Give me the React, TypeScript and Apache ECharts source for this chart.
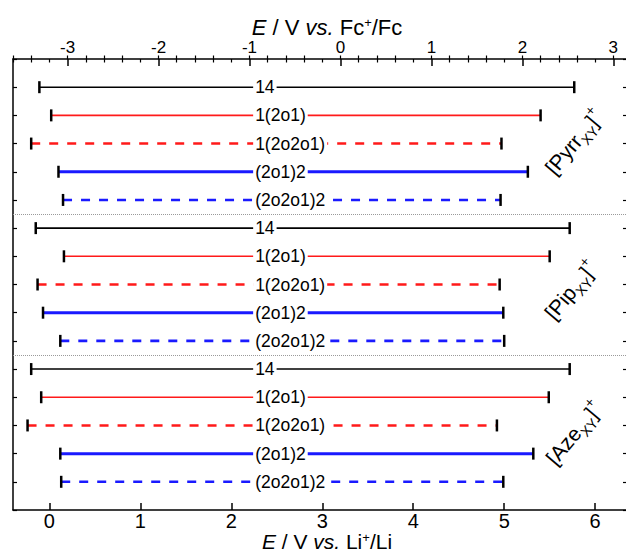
import React, { useEffect, useRef } from "react";
import * as echarts from "echarts";

// Row labels inside each cation family, top to bottom
const rowNames = ["14", "1(2o1)", "1(2o2o1)", "(2o1)2", "(2o2o1)2"];
// Cation families (subscripted XY, superscript +)
const groupNames = ["Pyrr", "Pip", "Aze"];

// Electrochemical window limits, V vs. Li+/Li
const pyrrLow = [-0.11, 0.02, -0.2, 0.1, 0.15];
const pyrrHigh = [5.77, 5.4, 4.97, 5.26, 4.96];
const pipLow = [-0.15, 0.16, -0.13, -0.07, 0.12];
const pipHigh = [5.72, 5.5, 4.95, 4.99, 5.0];
const azeLow = [-0.2, -0.09, -0.24, 0.12, 0.13];
const azeHigh = [5.72, 5.49, 4.92, 5.32, 4.99];

// Axis ranges and ticks
const liRange = [-0.4, 6.35];
const fcOffset = 3.2; // E(Fc+/Fc) = E(Li+/Li) - 3.2 V
const liMajor = [0, 1, 2, 3, 4, 5, 6];
const fcMajor = [-3, -2, -1, 0, 1, 2, 3];
const groupBreaks = [5.5, 10.5];
const labelAt = 2.24;

const rowStyles = [
  { color: "#000000", width: 1.6, dash: null as number[] | null },
  { color: "#ff1a1a", width: 1.6, dash: null },
  { color: "#ff1a1a", width: 2.6, dash: [9, 9] },
  { color: "#1a1aff", width: 3, dash: null },
  { color: "#1a1aff", width: 2.6, dash: [9, 9] },
];

const FONT = "'Liberation Sans', Arial, sans-serif";

function minorTicks(lo: number, hi: number): number[] {
  const out: number[] = [];
  for (let k = Math.ceil(lo * 5); k <= Math.floor(hi * 5); k++) {
    if (k % 5 !== 0) out.push(k / 5);
  }
  return out;
}

const lows = [pyrrLow, pipLow, azeLow];
const highs = [pyrrHigh, pipHigh, azeHigh];

export default function App() {
  const ref = useRef<HTMLDivElement>(null);

  useEffect(() => {
    document.body.style.margin = "0";
    if (!ref.current) return;
    const chart = echarts.init(ref.current, null, { renderer: "svg" });

    const data: number[][] = [];
    groupNames.forEach((_, gi) => {
      rowNames.forEach((__, ri) => {
        data.push([lows[gi][ri], highs[gi][ri], gi * rowNames.length + ri + 1, ri]);
      });
    });

    const fcRange = [liRange[0] - fcOffset, liRange[1] - fcOffset];

    const nameRich = (fs: number) => ({
      i: { fontStyle: "italic", fontSize: fs, lineHeight: fs, fontFamily: FONT, color: "#000" },
      s: { fontSize: 13, fontFamily: FONT, color: "#000", verticalAlign: "top", lineHeight: fs },
    });

    const majorAxis = (pos: "top" | "bottom", range: number[], ticks: number[], fs: number, name: string) => {
      const nfs = pos === "bottom" ? 21 : 22;
      return {
        type: "value",
        position: pos,
        min: range[0],
        max: range[1],
        name,
        nameLocation: "middle",
        nameGap: 21,
        nameMoveOverlap: false,
        nameTextStyle: {
          fontSize: nfs,
          lineHeight: nfs,
          fontFamily: FONT,
          color: "#000",
          rich: nameRich(nfs),
          padding: [0, 0, 0, 14],
        },
        axisLine: { show: true, onZero: false, lineStyle: { color: "#000", width: 1.5 } },
        axisTick: { show: true, inside: true, length: 7, customValues: ticks, lineStyle: { color: "#000", width: 1.5 } },
        axisLabel: {
          show: true,
          customValues: ticks,
          fontSize: fs,
          lineHeight: fs,
          fontFamily: FONT,
          color: "#000",
          margin: pos === "bottom" ? 1 : 3,
        },
        splitLine: { show: false },
      };
    };

    const minorAxis = (pos: "top" | "bottom", range: number[]) => ({
      type: "value",
      position: pos,
      min: range[0],
      max: range[1],
      axisLine: { show: false },
      axisTick: { show: true, inside: true, length: 3.5, customValues: minorTicks(range[0], range[1]), lineStyle: { color: "#000", width: 1.2 } },
      axisLabel: { show: false },
      splitLine: { show: false },
    });

    const yAxis = (pos: "left" | "right") => ({
      type: "value",
      position: pos,
      min: 0,
      max: 16,
      interval: 1,
      inverse: true,
      axisLine: { show: true, onZero: false, lineStyle: { color: "#000", width: 1.5 } },
      axisTick: { show: true, inside: true, length: 4, lineStyle: { color: "#000", width: 1.2 } },
      axisLabel: { show: false },
      splitLine: { show: false },
    });

    const groupCenters = [
      [574, 142],
      [571, 290],
      [574, 433],
    ];

    chart.setOption({
      animation: false,
      backgroundColor: "#fff",
      grid: { left: 13, right: 3, top: 59, bottom: 43, containLabel: false, outerBoundsMode: "none" },
      xAxis: [
        majorAxis("bottom", liRange, liMajor, 20, "{i|E} / V {i|vs.} Li{s|+}/Li"),
        minorAxis("bottom", liRange),
        majorAxis("top", fcRange, fcMajor, 17, "{i|E} / V {i|vs.} Fc{s|+}/Fc"),
        minorAxis("top", fcRange),
      ],
      yAxis: [yAxis("left"), yAxis("right")],
      graphic: groupNames.map((g, gi) => ({
        type: "text",
        x: groupCenters[gi][0],
        y: groupCenters[gi][1],
        rotation: (50 * Math.PI) / 180,
        style: {
          text: `[${g}{sub|XY}]{sup|+}`,
          rich: {
            sub: { fontSize: 14, fontFamily: FONT, fill: "#000", verticalAlign: "bottom", lineHeight: 30 },
            sup: { fontSize: 14, fontFamily: FONT, fill: "#000", verticalAlign: "top", lineHeight: 30 },
          },
          fontSize: 21,
          fontFamily: FONT,
          fill: "#000",
          align: "center",
          verticalAlign: "middle",
        },
      })),
      series: [
        {
          type: "custom",
          xAxisIndex: 0,
          yAxisIndex: 0,
          clip: false,
          data,
          encode: { x: [0, 1], y: 2 },
          renderItem: (params: any, api: any) => {
            const lo = api.value(0);
            const hi = api.value(1);
            const row = api.value(2);
            const kind = api.value(3);
            const st = rowStyles[kind];
            const a = api.coord([lo, row]);
            const b = api.coord([hi, row]);
            const t = api.coord([labelAt, row]);
            const lineStyle: any = { stroke: st.color, lineWidth: st.width };
            if (st.dash) lineStyle.lineDash = st.dash;
            const cap = (x: number, y: number) => ({
              type: "line",
              shape: { x1: x, y1: y - 6, x2: x, y2: y + 6 },
              style: { stroke: "#000", lineWidth: 2.5 },
            });
            return {
              type: "group",
              children: [
                { type: "line", shape: { x1: a[0], y1: a[1], x2: b[0], y2: b[1] }, style: lineStyle },
                cap(a[0], a[1]),
                cap(b[0], b[1]),
                {
                  type: "text",
                  x: t[0],
                  y: t[1],
                  style: {
                    text: rowNames[kind],
                    fill: "#000",
                    fontSize: 17.5,
                    fontFamily: FONT,
                    align: "left",
                    verticalAlign: "middle",
                    backgroundColor: "#fff",
                    padding: [1, 2, 1, 2],
                  },
                },
              ],
            };
          },
          markLine: {
            silent: true,
            symbol: "none",
            label: { show: false },
            lineStyle: { color: "#9a9a9a", type: "dotted", width: 1 },
            data: groupBreaks.map((v) => ({ yAxis: v })),
          },
        },
      ],
    });

    return () => chart.dispose();
  }, []);

  return (
    <div style={{ width: 626, height: 553, overflow: "hidden", background: "#fff" }}>
      <div ref={ref} style={{ width: 630, height: 553 }} />
    </div>
  );
}
